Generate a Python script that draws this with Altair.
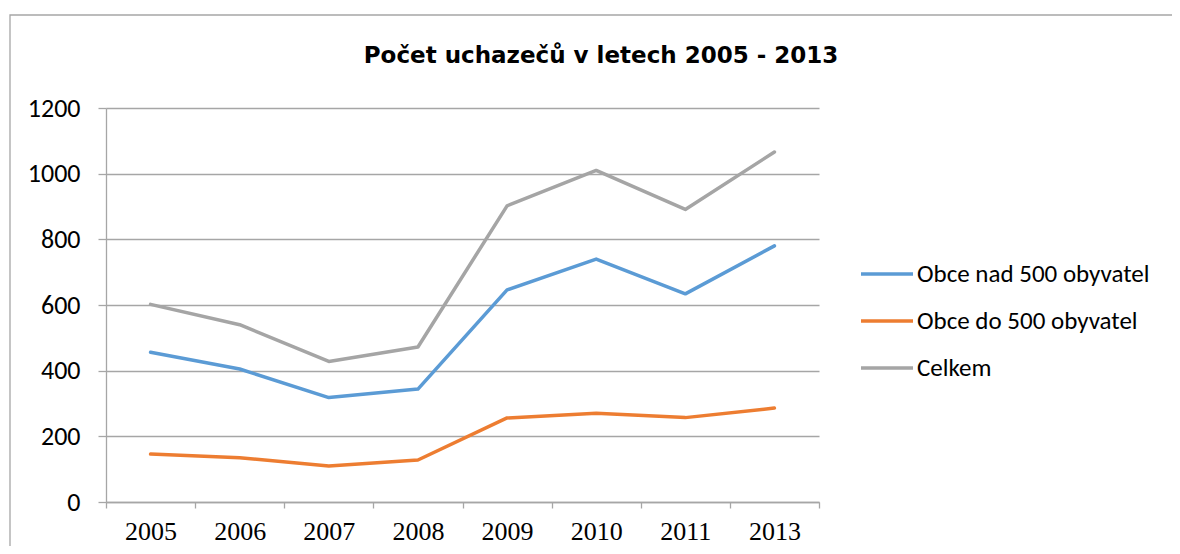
import altair as alt
import pandas as pd

years = ["2005", "2006", "2007", "2008", "2009", "2010", "2011", "2013"]
nad_500 = [456, 405, 318, 344, 646, 740, 634, 780]
do_500 = [146, 135, 110, 128, 256, 270, 257, 286]
celkem = [602, 540, 428, 472, 902, 1010, 891, 1066]

series_names = ["Obce nad 500 obyvatel", "Obce do 500 obyvatel", "Celkem"]
series_values = [nad_500, do_500, celkem]
colors = ["#5B9BD5", "#ED7D31", "#A5A5A5"]

rows = []
for name, vals in zip(series_names, series_values):
    for y, v in zip(years, vals):
        rows.append({"rok": y, "pocet": v, "serie": name})
df = pd.DataFrame(rows)

SANS = "Carlito, Lato, sans-serif"
TITLE_FONT = "DejaVu Sans"
SERIF = "Liberation Serif, Times New Roman, serif"
W, H = 713, 394
PL, PT = 98, 100
TOTAL_W, TOTAL_H = 1164, 538

lines = alt.Chart(df).mark_line(strokeWidth=3.5, strokeCap="round", strokeJoin="round").encode(
    x=alt.X("rok:N", sort=years, bandPosition=0.5,
            scale=alt.Scale(type="band", paddingInner=0, paddingOuter=0),
            axis=alt.Axis(title=None, labelAngle=0, tickBand="extent", grid=False,
                          labelFont=SERIF, labelFontSize=26, labelColor="#000000",
                          labelPadding=10, tickSize=6, tickColor="#A6A6A6",
                          domainColor="#A6A6A6", domainWidth=1.3, tickWidth=1.3)),
    y=alt.Y("pocet:Q", scale=alt.Scale(domain=[0, 1200], nice=False),
            axis=alt.Axis(title=None, values=[0, 200, 400, 600, 800, 1000, 1200], format="d",
                          grid=True, gridColor="#A6A6A6", gridWidth=1.3,
                          labelFont=SANS, labelFontSize=26, labelColor="#000000",
                          labelPadding=18, tickSize=8, tickColor="#A6A6A6", tickWidth=1.3,
                          domainColor="#A6A6A6", domainWidth=1.3)),
    color=alt.Color("serie:N", sort=series_names,
                    scale=alt.Scale(domain=series_names, range=colors),
                    legend=alt.Legend(title=None, orient="none", legendX=753, legendY=138,
                                      symbolType="stroke", symbolSize=2704,
                                      symbolStrokeWidth=3.5, labelFont=SANS,
                                      labelFontSize=25, labelColor="#000000", labelLimit=0,
                                      labelOffset=2, rowPadding=6)),
)

title_df = pd.DataFrame({"t": ["Počet uchazečů v letech 2005 - 2013"]})
title = alt.Chart(title_df).mark_text(font=TITLE_FONT, fontSize=23, fontWeight="bold",
                                      color="#000000", align="center", baseline="middle").encode(
    text="t:N", x=alt.value(601 - 106), y=alt.value(56 - 108))

frame = alt.Chart(title_df).mark_rect(fill=None, stroke="#A6A6A6", strokeWidth=1.3).encode(
    x=alt.value(10 - 106), y=alt.value(15 - 108),
    x2=alt.value(TOTAL_W - PL + 20), y2=alt.value(TOTAL_H - PT + 20))

chart = alt.layer(frame, lines, title).properties(
    width=W, height=H,
    autosize=alt.AutoSizeParams(type="none"),
    padding={"left": PL, "top": PT, "right": TOTAL_W - PL - W, "bottom": TOTAL_H - PT - H},
    background="#FFFFFF",
).configure_view(stroke=None)

chart.save("out.html", embed_options={"renderer": "svg", "actions": False})
